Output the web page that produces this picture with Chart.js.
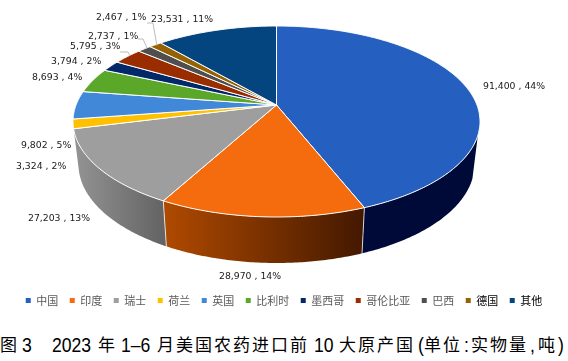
<!DOCTYPE html>
<html><head><meta charset="utf-8">
<script src="https://cdn.jsdelivr.net/npm/chart.js@4/dist/chart.umd.min.js"></script>
<style>
html,body{margin:0;padding:0;background:#fff;overflow:hidden}
#wrap{position:relative;width:568px;height:361px}
canvas{position:absolute;left:0;top:0}
#cap span{position:absolute;white-space:pre;line-height:20px;color:#000;top:333.5px;font:17px/20px "Noto Sans CJK SC",sans-serif;letter-spacing:2px}
#cap span.d{top:335px;font:20px/20px "Liberation Sans",sans-serif;letter-spacing:0;transform:scaleX(.88);transform-origin:0 50%}
</style></head><body>
<div id="wrap"><canvas id="c" width="568" height="316"></canvas>
<div id="cap"></div></div>
<script>
const categories=['中国','印度','瑞士','荷兰','英国','比利时','墨西哥','哥伦比亚','巴西','德国','其他'];
const values=[91400,28970,27203,3324,9802,8693,3794,5795,2737,2467,23531];
const colors=['#255FC0','#F56C0E','#9E9E9E','#FFC000','#4288D8','#5BA72A','#012868','#992D00','#4F4F4F','#946200','#04457F'];
const wallColors=[['#000a38','#000a38'],['#b04a00','#431800'],['#949494','#626262']];
const labelPos=[[483,87],[219,277],[28,219],[16,167],[21,146],[32,78],[51,62],[70,47],[88,37],[96,18],[151,20]];
const leaders=[[[120,52],[128,52],[130,56]],[[138,39],[143,39],[147,48]],[[147,23],[153,23],[157,46]]];
const captionRuns=[['图 ',0],['3   ',22,1],['2023 ',52,1],['年 ',98],['1–6 ',121,1],['月美国农药进口前 ',157],['10 ',314,1],['大原产国',339],['(',418,1],['单位',424],[':',464,1],['实物量',471],[',',530,1],['吨',538],[')',558,1]];
const cap=document.getElementById('cap');
captionRuns.forEach(r=>{const s=document.createElement('span');s.textContent=r[0];s.style.left=r[1]+'px';if(r[2])s.className='d';cap.appendChild(s);});
const TOP={cx:276.5,cy:121.5,a:203.5,b:95.5};
const BOT={cx:276.5,cy:164.4,a:198,b:98.6};
const V=-0.173, WALL_FROM=108*Math.PI/180, WALL_TO=256*Math.PI/180;
function proj(e,th){const y=-Math.cos(th),x=Math.sin(th),d=1+V*y;
  return [e.cx+e.a*x*Math.sqrt(1-V*V)/d,e.cy+e.b*(y+V)/d];}
function arcPts(e,s,t){const n=Math.max(2,Math.ceil((t-s)*90)),p=[];
  for(let i=0;i<=n;i++)p.push(proj(e,s+(t-s)*i/n));return p;}
const pie3d={id:'pie3d',beforeDatasetsDraw(chart){
  const ctx=chart.ctx,arcs=chart.getDatasetMeta(0).data;
  ctx.save();
  arcs.forEach((a,i)=>{
    const s=Math.max(a.startAngle+Math.PI/2,WALL_FROM),t=Math.min(a.endAngle+Math.PI/2,WALL_TO);
    if(t<=s||!wallColors[i])return;
    const up=arcPts(TOP,s,t),lo=arcPts(BOT,s,t).reverse();
    const all=up.concat(lo),xs=all.map(p=>p[0]);
    const g=ctx.createLinearGradient(Math.max(...xs),0,Math.min(...xs),0);
    g.addColorStop(0,wallColors[i][1]);g.addColorStop(1,wallColors[i][0]);
    ctx.beginPath();all.forEach((p,k)=>k?ctx.lineTo(p[0],p[1]):ctx.moveTo(p[0],p[1]));ctx.closePath();
    ctx.fillStyle=g;ctx.fill();
  });
  ctx.strokeStyle='rgba(255,255,255,.75)';ctx.lineWidth=1;
  arcs.slice(0,2).forEach(a=>{const th=a.endAngle+Math.PI/2,p=proj(TOP,th),q=proj(BOT,th);
    ctx.beginPath();ctx.moveTo(p[0],p[1]);ctx.lineTo(q[0],q[1]);ctx.stroke();});
  const apex=[TOP.cx,TOP.cy+TOP.b*V];
  arcs.forEach((a,i)=>{
    const pts=arcPts(TOP,a.startAngle+Math.PI/2,a.endAngle+Math.PI/2);
    ctx.beginPath();ctx.moveTo(apex[0],apex[1]);pts.forEach(p=>ctx.lineTo(p[0],p[1]));ctx.closePath();
    ctx.fillStyle=colors[i];ctx.fill();
    ctx.strokeStyle='#fff';ctx.lineWidth=1;ctx.stroke();
  });
  const total=values.reduce((x,y)=>x+y,0);
  ctx.strokeStyle='#a6a6a6';ctx.lineWidth=.75;
  leaders.forEach(l=>{ctx.beginPath();l.forEach((p,k)=>k?ctx.lineTo(p[0],p[1]):ctx.moveTo(p[0],p[1]));ctx.stroke();});
  ctx.fillStyle='#1a1a1a';ctx.font='9.3px "DejaVu Sans"';ctx.textBaseline='middle';ctx.textAlign='left';
  values.forEach((v,i)=>{ctx.fillText(v.toLocaleString('en-US')+' , '+Math.round(v/total*100)+'%',labelPos[i][0],labelPos[i][1]);});
  ctx.restore();
  return false;
}};
new Chart(document.getElementById('c'),{type:'pie',
 data:{labels:categories,datasets:[{data:values,backgroundColor:colors,borderColor:'#fff',borderWidth:1}]},
 plugins:[pie3d],
 options:{responsive:false,animation:false,
  plugins:{tooltip:{enabled:false},title:{display:false},
   legend:{display:true,position:'bottom',
    labels:{boxWidth:5,boxHeight:5,padding:11.5,color:'#595959',font:{size:11,family:'"Noto Sans CJK SC"'},
     generateLabels(chart){const it=Chart.overrides.pie.plugins.legend.labels.generateLabels(chart);
       it.forEach((x,i)=>{x.lineWidth=0;x.strokeStyle='transparent';x.fontColor=i>=9?'#000':'#595959';});return it;}}}}}});
</script></body></html>
